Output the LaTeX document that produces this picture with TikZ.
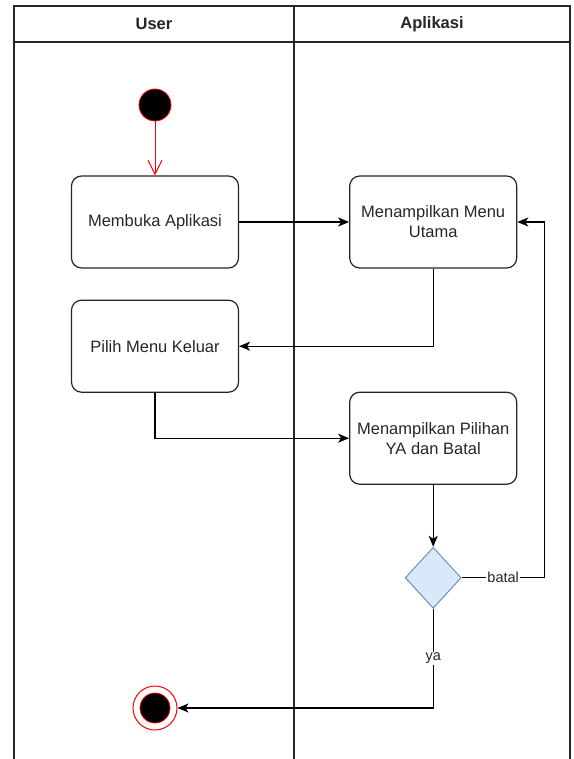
\documentclass[tikz,border=0pt]{standalone}
\usepackage{fontspec}
\setmainfont{Liberation Sans}
\usetikzlibrary{arrows.meta,positioning,shapes.geometric}
\definecolor{choicefill}{HTML}{DAE8FC}
\definecolor{choicedraw}{HTML}{6C8EBF}

\begin{document}
\begin{tikzpicture}[x=1pt, y=-1pt,
  node distance=54pt and 110pt,
  lane/.style={draw=black!85, line width=1.3pt},
  lanehead/.style={font=\bfseries\fontsize{16.5}{20}\selectfont, text=black!85},
  act/.style={draw=black!85, line width=1.2pt, rounded corners=10pt,
              minimum width=167pt, minimum height=92pt, inner sep=2pt,
              align=center, font=\fontsize{16.5}{20}\selectfont, text=black!85},
  dot/.style={circle, fill=black, draw=red, line width=0.8pt, inner sep=0pt},
  choice/.style={diamond, draw=choicedraw, fill=choicefill, line width=1pt,
                 minimum width=56pt, minimum height=61pt, inner sep=0pt, aspect=0.92},
  lbl/.style={fill=white, inner sep=1pt, font=\fontsize{14.5}{17}\selectfont, text=black!85},
  flow/.style={-{Stealth[length=11pt, width=9pt, inset=3pt]}, line width=1.2pt},
  redflow/.style={-{Straight Barb[length=14pt, width=14pt]}, line width=1pt, red}]
\useasboundingbox (0,0) rectangle (573,759);
% swimlanes
\draw[lane] (14,759) |- (570,6) -- (570,759);
\draw[lane] (14,42) -- (570,42);
\draw[lane] (294,6) -- (294,759);
\node[lanehead] (huser) at (154,24) {User};
\node[lanehead] (happ) at (432,24) {Aplikasi};
% activities
\node[dot, minimum size=32pt] (start) at (155,105) {};
\node[act, below=of start] (buka) {Membuka Aplikasi};
\node[act, right=of buka] (utama) {Menampilkan Menu\\ Utama};
\node[act, below=31pt of buka] (keluar) {Pilih Menu Keluar};
\node[act, below=123pt of utama] (pilihan) {Menampilkan Pilihan\\ YA dan Batal};
\node[choice, below=62pt of pilihan] (cek) {};
\node[circle, draw=red, line width=1pt, minimum size=44pt] (stop) at (155,708) {};
\node[dot, minimum size=30pt] (stopdot) at (stop.center) {};
\coordinate[right=83pt of cek.east] (balik);
% flows
\draw[redflow] (start) -- (buka);
\draw[flow] (buka) -- (utama);
\draw[flow] (utama.south) |- (keluar.east);
\draw[flow] (keluar.south) |- (pilihan.west);
\draw[flow] (pilihan) -- (cek);
\draw[flow] (cek.east) -- node[lbl] {batal} (balik) |- (utama.east);
\draw[flow] (cek.south) |- node[lbl, pos=0.25] {ya} (stop.east);
\end{tikzpicture}
\end{document}
